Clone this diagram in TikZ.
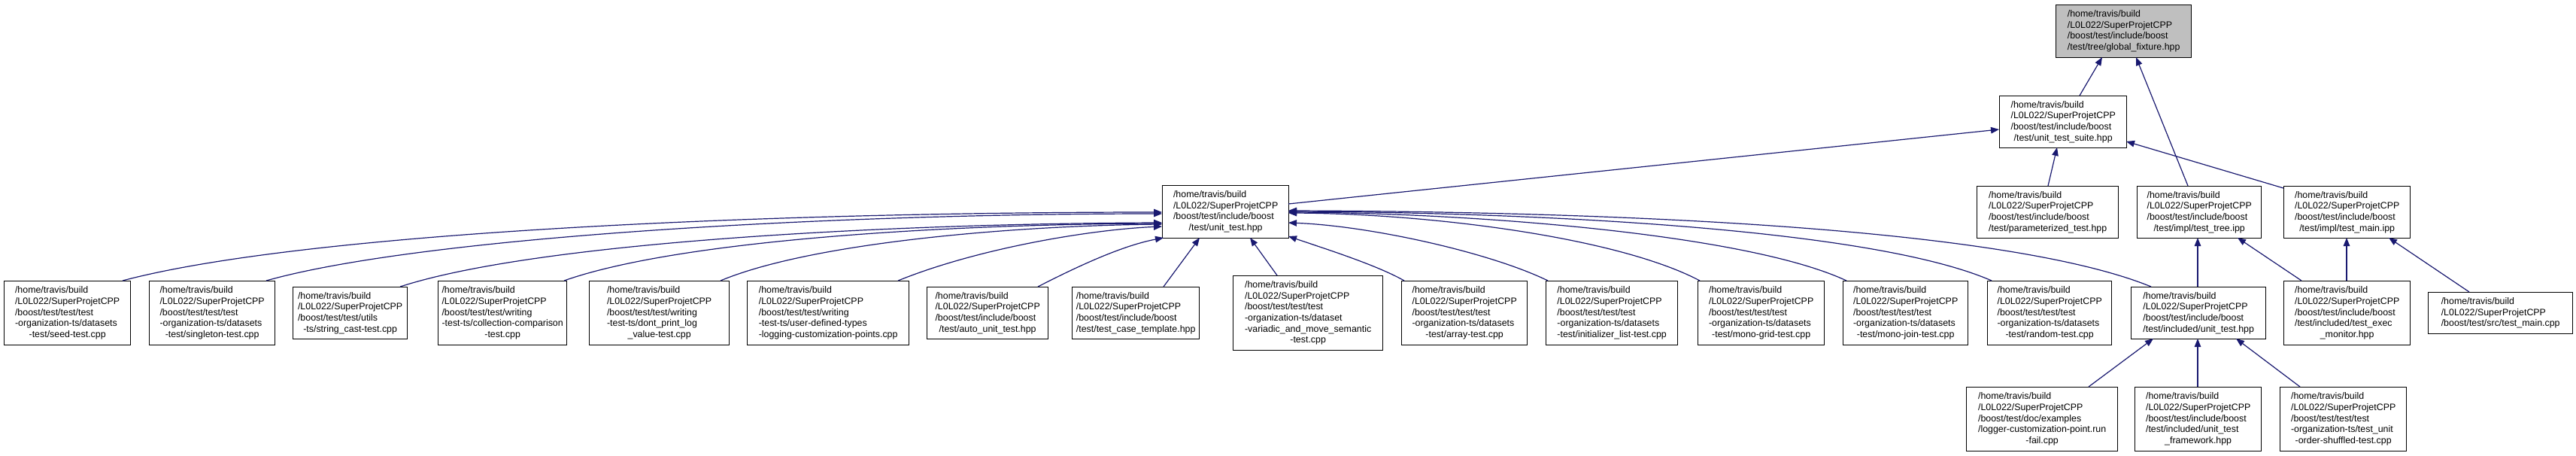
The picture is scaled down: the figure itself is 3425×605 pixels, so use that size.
\documentclass[tikz,border=0pt]{standalone}
\usepackage{fontspec}
\setmainfont{Liberation Sans}
\usetikzlibrary{arrows.meta,calc}
\definecolor{edgecol}{HTML}{191970}
\definecolor{rootfill}{HTML}{BFBFBF}
\newcommand{\lb}[2]{\begin{tabular}{@{}l@{}}#1\\\multicolumn{1}{@{}c@{}}{#2}\end{tabular}}
\newcommand{\hb}{/home/travis/build\\/L0L022/SuperProjetCPP}
\begin{document}
\begin{tikzpicture}[x=1pt,y=-1pt,
  box/.style={draw=black,line width=1.3pt,fill=white,inner sep=0pt,anchor=north west,
    font=\fontsize{12.4}{14.7}\selectfont},
  conn/.style={draw=edgecol,line width=1.2pt,-{Triangle[length=11pt,width=8.5pt]}}]
\useasboundingbox (0,0) rectangle (3425,605);
\fill[white] (0,0) rectangle (3425,605);
% row 0
\node[box,fill=rootfill,minimum width=180pt,minimum height=70pt] (root) at (2733,6)
  {\lb{\hb\\/boost/test/include/boost}{/test/tree/global\_fixture.hpp}};
% row 1
\node[box,minimum width=169pt,minimum height=69pt] (suite) at (2658,127)
  {\lb{\hb\\/boost/test/include/boost}{/test/unit\_test\_suite.hpp}};
% row 2
\node[box,minimum width=168pt,minimum height=70pt] (ut) at (1545,246)
  {\lb{\hb\\/boost/test/include/boost}{/test/unit\_test.hpp}};
\node[box,minimum width=188pt,minimum height=69pt] (param) at (2628,247)
  {\lb{\hb\\/boost/test/include/boost}{/test/parameterized\_test.hpp}};
\node[box,minimum width=165pt,minimum height=69pt] (ttree) at (2841,247)
  {\lb{\hb\\/boost/test/include/boost}{/test/impl/test\_tree.ipp}};
\node[box,minimum width=168pt,minimum height=69pt] (tmipp) at (3036,247)
  {\lb{\hb\\/boost/test/include/boost}{/test/impl/test\_main.ipp}};
% row 3
\node[box,minimum width=168pt,minimum height=85pt] (seed) at (5,373)
  {\lb{\hb\\/boost/test/test/test\\-organization-ts/datasets}{-test/seed-test.cpp}};
\node[box,minimum width=167pt,minimum height=85pt] (single) at (198,373)
  {\lb{\hb\\/boost/test/test/test\\-organization-ts/datasets}{-test/singleton-test.cpp}};
\node[box,minimum width=152pt,minimum height=69pt] (strc) at (389,381)
  {\lb{\hb\\/boost/test/test/utils}{-ts/string\_cast-test.cpp}};
\node[box,minimum width=171pt,minimum height=85pt] (coll) at (582,373)
  {\lb{\hb\\/boost/test/test/writing\\-test-ts/collection-comparison}{-test.cpp}};
\node[box,minimum width=186pt,minimum height=85pt] (dont) at (783,373)
  {\lb{\hb\\/boost/test/test/writing\\-test-ts/dont\_print\_log}{\_value-test.cpp}};
\node[box,minimum width=215pt,minimum height=85pt] (udt) at (993,373)
  {\lb{\hb\\/boost/test/test/writing\\-test-ts/user-defined-types}{-logging-customization-points.cpp}};
\node[box,minimum width=161pt,minimum height=69pt] (auto) at (1232,381)
  {\lb{\hb\\/boost/test/include/boost}{/test/auto\_unit\_test.hpp}};
\node[box,minimum width=169pt,minimum height=69pt] (tct) at (1425,381)
  {\lb{\hb\\/boost/test/include/boost}{/test/test\_case\_template.hpp}};
\node[box,minimum width=199pt,minimum height=99pt] (vari) at (1639,366)
  {\lb{\hb\\/boost/test/test/test\\-organization-ts/dataset\\-variadic\_and\_move\_semantic}{-test.cpp}};
\node[box,minimum width=167pt,minimum height=85pt] (arr) at (1863,373)
  {\lb{\hb\\/boost/test/test/test\\-organization-ts/datasets}{-test/array-test.cpp}};
\node[box,minimum width=175pt,minimum height=85pt] (init) at (2055,373)
  {\lb{\hb\\/boost/test/test/test\\-organization-ts/datasets}{-test/initializer\_list-test.cpp}};
\node[box,minimum width=168pt,minimum height=85pt] (mgrid) at (2257,373)
  {\lb{\hb\\/boost/test/test/test\\-organization-ts/datasets}{-test/mono-grid-test.cpp}};
\node[box,minimum width=166pt,minimum height=85pt] (mjoin) at (2450,373)
  {\lb{\hb\\/boost/test/test/test\\-organization-ts/datasets}{-test/mono-join-test.cpp}};
\node[box,minimum width=165pt,minimum height=85pt] (rand) at (2642,373)
  {\lb{\hb\\/boost/test/test/test\\-organization-ts/datasets}{-test/random-test.cpp}};
\node[box,minimum width=179pt,minimum height=69pt] (iut) at (2833,381)
  {\lb{\hb\\/boost/test/include/boost}{/test/included/unit\_test.hpp}};
\node[box,minimum width=168pt,minimum height=85pt] (exec) at (3036,373)
  {\lb{\hb\\/boost/test/include/boost\\/test/included/test\_exec}{\_monitor.hpp}};
\node[box,minimum width=192pt,minimum height=55pt] (tmcpp) at (3228,388)
  {\lb{/home/travis/build\\/L0L022/SuperProjetCPP}{/boost/test/src/test\_main.cpp}};
% row 4
\node[box,minimum width=201pt,minimum height=85pt] (logger) at (2614,514)
  {\lb{\hb\\/boost/test/doc/examples\\/logger-customization-point.run}{-fail.cpp}};
\node[box,minimum width=168pt,minimum height=85pt] (fw) at (2838,514)
  {\lb{\hb\\/boost/test/include/boost\\/test/included/unit\_test}{\_framework.hpp}};
\node[box,minimum width=168pt,minimum height=85pt] (shuf) at (3031,514)
  {\lb{\hb\\/boost/test/test/test\\-organization-ts/test\_unit}{-order-shuffled-test.cpp}};
% edges
\draw[conn] ($(suite.north west)+(107,0)$) -- ($(root.north west)+(62,70)$);
\draw[conn] ($(ttree.north west)+(68,0)$) -- ($(root.north west)+(107,70)$);
\draw[conn] ($(ut.north west)+(168,25)$) -- ($(suite.north west)+(0,45)$);
\draw[conn] ($(param.north west)+(95,0)$) -- ($(suite.north west)+(77,69)$);
\draw[conn] ($(tmipp.north west)+(0,3)$) -- ($(suite.north west)+(169,61)$);
\draw[conn] ($(iut.north west)+(89,0)$) -- ($(ttree.north west)+(81,69)$);
\draw[conn] ($(exec.north west)+(24,0)$) -- ($(ttree.north west)+(134,69)$);
\draw[conn] ($(exec.north west)+(84,0)$) -- ($(tmipp.north west)+(84,69)$);
\draw[conn] ($(tmcpp.north west)+(55,0)$) -- ($(tmipp.north west)+(140,69)$);
\draw[conn] ($(logger.north west)+(163,0)$) -- ($(iut.north west)+(30,69)$);
\draw[conn] ($(fw.north west)+(84,0)$) -- ($(iut.north west)+(89,69)$);
\draw[conn] ($(shuf.north west)+(27,0)$) -- ($(iut.north west)+(140,69)$);
% into unit_test.hpp from the left
\draw[conn] ($(seed.north west)+(158,0)$) .. controls (400,310) and (1000,282) .. ($(ut.north west)+(0,36)$);
\draw[conn] ($(single.north west)+(156,0)$) .. controls (560,315) and (1100,284) .. ($(ut.north west)+(0,38)$);
\draw[conn] ($(strc.north west)+(143,0)$) .. controls (720,320) and (1200,297) .. ($(ut.north west)+(0,50)$);
\draw[conn] ($(coll.north west)+(168,0)$) .. controls (900,320) and (1250,298) .. ($(ut.north west)+(0,51)$);
\draw[conn] ($(dont.north west)+(175,0)$) .. controls (1080,322) and (1350,300) .. ($(ut.north west)+(0,52)$);
\draw[conn] ($(udt.north west)+(201,0)$) .. controls (1300,330) and (1450,305) .. ($(ut.north west)+(0,55)$);
\draw[conn] ($(auto.north west)+(148,0)$) .. controls (1450,345) and (1500,325) .. ($(ut.north west)+(2,70)$);
% from below
\draw[conn] ($(tct.north west)+(122,0)$) -- ($(ut.north west)+(50,70)$);
\draw[conn] ($(vari.north west)+(59,0)$) -- ($(ut.north west)+(117,70)$);
% from the right
\draw[conn] ($(arr.north west)+(4,0)$) .. controls (1830,352) and (1760,330) .. ($(ut.north west)+(168,68)$);
\draw[conn] ($(init.north west)+(3,0)$) .. controls (1980,335) and (1820,300) .. ($(ut.north west)+(168,50)$);
\draw[conn] ($(mgrid.north west)+(3,0)$) .. controls (2150,315) and (1900,284) .. ($(ut.north west)+(168,37)$);
\draw[conn] ($(mjoin.north west)+(5,0)$) .. controls (2320,310) and (1950,283) .. ($(ut.north west)+(168,36)$);
\draw[conn] ($(rand.north west)+(6,0)$) .. controls (2480,300) and (2000,282) .. ($(ut.north west)+(168,35)$);
\draw[conn] ($(iut.north west)+(27,0)$) .. controls (2650,295) and (2050,281) .. ($(ut.north west)+(168,34)$);
\end{tikzpicture}
\end{document}
